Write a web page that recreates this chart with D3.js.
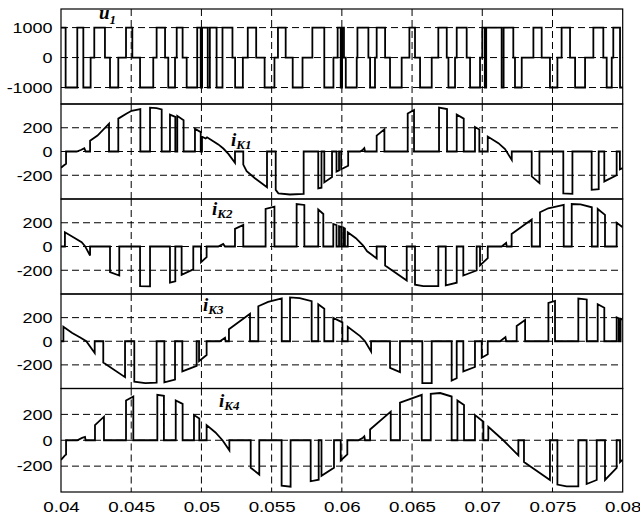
<!DOCTYPE html>
<html>
<head>
<meta charset="utf-8">
<script src="https://cdn.jsdelivr.net/npm/d3@7"></script>
<style>
body{margin:0;background:#fff}
.tick text{font-family:"Liberation Sans",Arial,sans-serif;font-size:15px;fill:#000}
.lbl{font-family:"Liberation Serif","Times New Roman",serif;font-weight:bold;font-style:italic;fill:#000}
</style>
</head>
<body>
<svg id="graph"></svg>
<script>
// time axis in ms, labels shown in seconds
var xTicks = [40,45,50,55,60,65,70,75,80]
var xTickLabels = ["0.04","0.045","0.05","0.055","0.06","0.065","0.07","0.075","0.08"]
var uTicks = [-1000,0,1000]
var iTicks = [-200,0,200]

// u1: [t ms, level], held until next point
var u1 = [[40.00,1000],[40.33,-1000],[41.16,1000],[41.59,-1000],[42.11,0],[42.37,1000],[43.13,0],[43.49,-1000],
  [44.08,0],[44.63,1000],[45.08,0],[45.63,-1000],[46.57,0],[46.81,1000],[47.41,0],[47.64,-1000],[48.12,0],
  [48.24,1000],[48.66,0],[48.95,-1000],[49.70,1000],[49.95,-1000],[50.05,1000],[50.45,-1000],[50.60,1000],
  [51.08,-1000],[51.50,1000],[52.21,0],[52.40,-1000],[52.95,0],[53.30,1000],[53.90,0],[54.50,-1000],[55.20,0],
  [55.45,1000],[56.00,0],[56.50,-1000],[57.20,0],[57.90,1000],[58.75,-1000],[59.40,0],[59.70,1000],[59.92,-1000],
  [60.02,1000],[60.15,0],[60.28,-1000],[61.06,0],[61.11,1000],[61.89,0],[62.01,-1000],[62.36,0],[62.48,1000],
  [63.08,0],[63.43,-1000],[64.26,0],[64.81,1000],[65.21,0],[65.57,-1000],[66.40,0],[66.87,1000],[67.47,0],
  [67.59,-1000],[68.06,0],[68.18,1000],[68.89,0],[69.13,-1000],[69.84,0],[70.00,1000],[70.18,-1000],[70.28,1000],
  [71.38,-1000],[71.52,1000],[72.21,0],[72.33,-1000],[72.81,0],[73.64,1000],[74.23,0],[74.82,-1000],[75.35,0],
  [75.65,1000],[76.25,0],[76.61,-1000],[77.32,0],[77.91,1000],[78.62,0],[78.86,-1000],[79.22,0],[79.33,1000],
  [79.81,-1000],[80.00,-1000]]

var iK1 = [[40.00,-137],[40.17,-120],[40.36,-103],[40.36,0],
  [41.12,0],[41.45,15],[41.66,28],[41.76,0],
  [42.07,0],[42.07,91],[42.6,134],[43.42,234],[43.42,0],
  [44.08,0],[44.08,277],[44.68,320],[45.03,343],[45.65,357],[45.65,0],
  [46.34,0],[46.34,369],[46.8,365],[47.17,355],[47.17,0],
  [47.76,0],[47.76,311],[48.14,292],[48.14,0],
  [48.28,0],[48.28,300],[48.73,263],[48.73,0],
  [49.54,0],[49.54,191],[49.95,163],[49.95,0],
  [50.04,0],[50.04,125],[50.30,110],[50.40,120],[50.73,95],[51.20,60],[51.56,25],[51.92,-20],[52.39,-95],[52.39,0],
  [52.98,0],[52.98,-110],[53.22,-165],[53.81,-225],[54.67,-300],[54.67,0],
  [55.29,0],[55.29,-323],[55.48,-352],[56.3,-362],[57.28,-357],[57.28,0],
  [58.32,0],[58.32,-310],[58.55,-305],[58.55,0],[58.75,0],[58.75,-260],[59.30,-215],[59.30,0],
  [59.62,0],[59.62,-170],[59.80,-160],[59.80,0],[59.95,0],[59.95,-150],[60.45,-120],[60.45,0],
  [61.30,0],[61.5,15],[61.60,28],[61.65,0],
  [62.48,0],[62.48,134],[63.03,186],[63.03,0],
  [64.69,0],[64.69,320],[65.14,349],[65.14,0],
  [66.92,0],[66.92,369],[67.49,357],[67.49,0],
  [68.18,0],[68.18,311],[68.68,277],[68.68,0],
  [69.48,0],[69.48,206],[69.79,186],[69.79,0],
  [70.39,0],[70.39,126],[71.15,70],[71.62,20],[72.10,-71],[72.10,0],
  [73.52,0],[73.52,-209],[74.07,-266],[74.07,0],
  [75.77,0],[75.77,-352],[76.42,-357],[76.42,0],
  [77.79,0],[77.79,-323],[78.29,-317],[78.29,0],
  [78.69,0],[78.69,-252],[79.57,-200],[79.57,0],[79.80,0],[79.80,-150],[80.0,-140]]

var iK2 = [[40.00,0],[40.28,0],[40.28,120],[40.88,78],[41.47,36],[41.7,5],[42.07,-76],[42.07,0],
  [43.49,0],[43.49,-216],[44.15,-244],[44.15,0],
  [45.63,0],[45.63,-333],[46.34,-336],[46.34,0],
  [47.76,0],[47.76,-305],[48.14,-294],[48.14,0],
  [48.59,0],[48.59,-238],[49.42,-193],[49.42,0],
  [49.97,0],[49.97,-132],[50.37,-90],[50.37,0],
  [51.20,0],[51.55,22],[51.68,0],
  [52.39,0],[52.39,148],[52.98,182],[52.98,0],
  [54.57,0],[54.57,316],[55.20,336],[55.20,0],
  [56.78,0],[56.78,358],[57.33,350],[57.33,0],
  [58.32,0],[58.32,311],[58.68,274],[58.68,0],
  [59.39,0],[59.39,190],[59.62,180],[59.62,0],[59.80,0],[59.80,170],[59.95,165],[59.95,0],
  [60.10,0],[60.10,160],[60.22,152],[60.22,0],
  [60.42,0],[60.42,120],[61.0,70],[61.5,10],[61.8,-40],[62.48,-100],[62.48,0],
  [63.08,0],[63.08,-160],[64.62,-286],[64.62,0],
  [65.21,0],[65.21,-322],[65.8,-333],[66.87,-333],[66.87,0],
  [67.40,0],[67.40,-328],[68.18,-305],[68.18,0],
  [68.65,0],[68.65,-244],[69.60,-202],[69.60,0],
  [69.84,0],[69.84,-160],[70.39,-98],[70.39,0],
  [71.38,0],[71.70,30],[71.74,0],
  [72.09,0],[72.09,106],[73.52,227],[73.52,0],
  [74.11,0],[74.11,288],[74.70,322],[75.80,350],[75.80,0],
  [76.37,0],[76.37,358],[77.0,355],[77.80,330],[77.80,0],
  [78.22,0],[78.22,316],[78.74,266],[78.74,0],
  [79.57,0],[79.57,199],[80.0,162]]

var iK3 = [[40.00,0],[40.17,0],[40.17,122],[40.8,70],[41.4,30],[41.8,0],[42.4,-100],[42.4,0],
  [43.01,0],[43.01,-180],[44.56,-304],[44.56,0],
  [45.22,0],[45.22,-342],[46.0,-354],[46.81,-350],[46.81,0],
  [47.36,0],[47.36,-348],[48.12,-325],[48.12,0],
  [48.64,0],[48.64,-255],[49.66,-209],[49.66,0],
  [49.83,0],[49.83,-168],[50.37,-116],[50.37,0],
  [51.32,0],[51.68,29],[51.72,0],
  [51.96,0],[51.96,101],[53.46,232],[53.46,0],
  [54.05,0],[54.05,296],[54.75,333],[55.72,362],[55.72,0],
  [56.31,0],[56.31,371],[57.0,365],[57.85,339],[57.85,0],
  [58.32,0],[58.32,313],[58.75,275],[58.75,0],
  [59.39,0],[59.39,197],[60.04,160],[60.04,0],
  [60.42,0],[60.42,122],[61.3,44],[61.65,0],[62.08,-87],[62.08,0],
  [63.43,0],[63.43,-226],[64.14,-261],[64.14,0],
  [65.73,0],[65.73,-354],[66.40,-354],[66.40,0],
  [67.82,0],[67.82,-333],[68.18,-313],[68.18,0],
  [68.65,0],[68.65,-255],[69.48,-218],[69.48,0],
  [69.96,0],[69.96,-139],[70.39,-110],[70.39,0],
  [71.27,0],[71.65,35],[71.70,0],
  [72.45,0],[72.45,130],[73.05,180],[73.05,0],
  [74.71,0],[74.71,325],[75.18,342],[75.18,0],
  [76.84,0],[76.84,362],[77.44,354],[77.44,0],
  [78.22,0],[78.22,313],[78.69,284],[78.69,0],
  [79.57,0],[79.57,203],[79.72,195],[79.72,0],[79.85,0],[79.85,190],[80.0,185]]

var iK4 = [[40.00,-151],[40.28,-117],[40.36,-110],[40.36,0],
  [41.16,0],[41.5,18],[41.71,26],[41.75,0],
  [42.42,0],[42.42,117],[43.06,182],[43.06,0],
  [44.63,0],[44.63,307],[45.15,338],[45.15,0],
  [46.86,0],[46.86,351],[47.33,343],[47.33,0],
  [48.17,0],[48.17,307],[48.66,281],[48.66,0],
  [49.47,0],[49.47,195],[49.85,169],[49.85,0],
  [50.37,0],[50.37,117],[51.0,60],[51.5,0],[51.99,-78],[51.99,0],
  [53.51,0],[53.51,-213],[54.12,-265],[54.12,0],
  [55.71,0],[55.71,-351],[56.35,-359],[56.35,0],
  [57.78,0],[57.78,-317],[58.35,-305],[58.35,0],[58.55,0],[58.55,-275],[59.44,-213],[59.44,0],
  [59.92,0],[59.92,-156],[60.39,-109],[60.39,0],
  [61.18,0],[61.5,20],[61.60,30],[61.65,0],
  [62.01,0],[62.01,83],[63.48,221],[63.48,0],
  [64.14,0],[64.14,291],[65.69,351],[65.69,0],
  [66.33,0],[66.33,359],[67.0,365],[67.82,338],[67.82,0],
  [68.23,0],[68.23,307],[68.70,273],[68.70,0],
  [69.48,0],[69.48,195],[70.08,143],[70.08,0],
  [70.43,0],[70.43,104],[71.4,10],[71.5,0],[72.57,-117],[72.57,0],
  [72.97,0],[72.97,-169],[74.82,-307],[74.82,0],
  [75.35,0],[75.35,-343],[76.0,-357],[76.84,-357],[76.84,0],
  [77.43,0],[77.43,-338],[78.15,-307],[78.15,0],
  [78.74,0],[78.74,-307],[79.57,-213],[79.57,0],
  [79.81,0],[79.81,-169],[80.0,-150]]

var screen = {width:640,height:515}
var left = 61, right = 622.7

var panels = [
  {data:u1, top:9, bottom:104, domain:[-1550,1620], ticks:uTicks, step:true, name:"u", sub:"1", lx:99, ly:19},
  {data:iK1, top:104, bottom:199, domain:[-400,400], ticks:iTicks, name:"i", sub:"K1", lx:231, ly:146},
  {data:iK2, top:199, bottom:294, domain:[-400,400], ticks:iTicks, name:"i", sub:"K2", lx:212, ly:215},
  {data:iK3, top:294, bottom:388.5, domain:[-400,400], ticks:iTicks, name:"i", sub:"K3", lx:203, ly:311},
  {data:iK4, top:388.5, bottom:492, domain:[-400,400], ticks:iTicks, name:"i", sub:"K4", lx:219, ly:407}
]

var svg = d3.select("#graph")
  .attr("width",screen.width)
  .attr("height",screen.height)

var xScale = d3.scaleLinear()
  .domain([40,80])
  .range([left,right])

var drawPanel = function(p,idx)
{
  var yScale = d3.scaleLinear()
    .domain(p.domain)
    .range([p.bottom,p.top])

  var g = svg.append("g")

  g.append("clipPath")
    .attr("id","clip"+idx)
    .append("rect")
    .attr("x",left)
    .attr("y",p.top)
    .attr("width",right-left)
    .attr("height",p.bottom-p.top)

  // dashed grid
  g.selectAll(".vgrid")
    .data(xTicks.slice(1,-1))
    .enter()
    .append("line")
    .attr("x1",function(d){return xScale(d)})
    .attr("x2",function(d){return xScale(d)})
    .attr("y1",p.top)
    .attr("y2",p.bottom)
    .attr("stroke","#000")
    .attr("stroke-width",1)
    .attr("stroke-dasharray","7,4")

  g.selectAll(".hgrid")
    .data(p.ticks)
    .enter()
    .append("line")
    .attr("x1",left)
    .attr("x2",right)
    .attr("y1",function(d){return yScale(d)})
    .attr("y2",function(d){return yScale(d)})
    .attr("stroke","#000")
    .attr("stroke-width",1)
    .attr("stroke-dasharray","7,4")

  var line = d3.line()
    .x(function(d){return xScale(d[0])})
    .y(function(d){return yScale(d[1])})
  if(p.step) line.curve(d3.curveStepAfter)

  g.append("path")
    .datum(p.data)
    .attr("d",line)
    .attr("fill","none")
    .attr("stroke","#000")
    .attr("stroke-width",1.8)
    .attr("clip-path","url(#clip"+idx+")")

  g.append("rect")
    .attr("x",left)
    .attr("y",p.top)
    .attr("width",right-left)
    .attr("height",p.bottom-p.top)
    .attr("fill","none")
    .attr("stroke","#000")
    .attr("stroke-width",1.2)

  var yAxis = d3.axisLeft(yScale)
    .tickValues(p.ticks)
    .tickSize(0)
    .tickPadding(7)
    .tickFormat(function(d){return String(d)})

  var ya = g.append("g")
    .attr("transform","translate("+left+",0)")
    .call(yAxis)
  ya.select(".domain").remove()
  ya.selectAll("text").attr("transform","scale(1.2,1)")

  var lbl = g.append("text")
    .attr("class","lbl")
    .attr("x",p.lx)
    .attr("y",p.ly)
  lbl.append("tspan")
    .style("font-size","19px")
    .text(p.name)
  lbl.append("tspan")
    .style("font-size","13px")
    .attr("dy",p.sub=="1"?5:3)
    .text(p.sub)
}

panels.forEach(drawPanel)

var xAxis = d3.axisBottom(xScale)
  .tickValues(xTicks)
  .tickSize(0)
  .tickPadding(9)
  .tickFormat(function(d,i){return xTickLabels[i]})

var xa = svg.append("g")
  .attr("transform","translate(0,492)")
  .call(xAxis)
xa.select(".domain").remove()
xa.selectAll("text").attr("transform","scale(1.25,1)")
</script>
</body>
</html>
